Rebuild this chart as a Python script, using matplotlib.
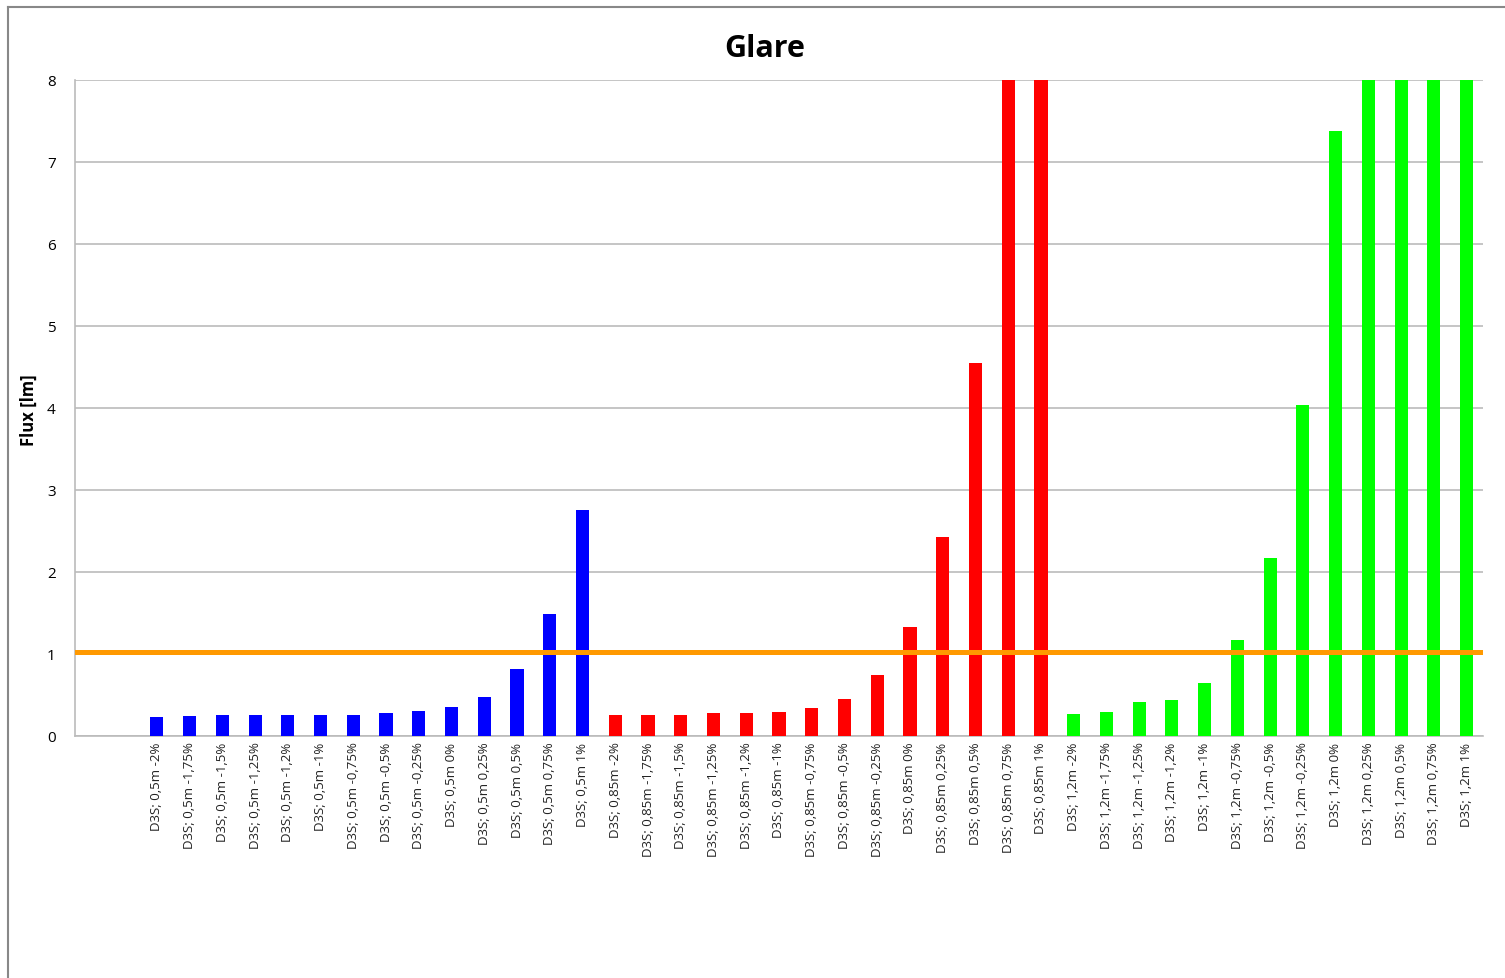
import matplotlib.pyplot as plt
from matplotlib.lines import Line2D

# offsets per mounting height (as printed in the labels)
off_05 = ["-2%", "-1,75%", "-1,5%", "-1,25%", "-1,2%", "-1%", "-0,75%", "-0,5%",
          "-0,25%", "0%", "0,25%", "0,5%", "0,75%", "1%"]
off_085 = ["-2%", "-1,75%", "-1,5%", "-1,25%", "-1,2%", "-1%", "-0,75%", "-0,5%",
           "-0,25%", "0%", "0,25%", "0,5%", "0,75%", "1%"]
off_12 = ["-2%", "-1,75%", "-1,25%", "-1,2%", "-1%", "-0,75%", "-0,5%",
          "-0,25%", "0%", "0,25%", "0,5%", "0,75%", "1%"]

# flux values [lm]; the tall ones run off the top of the 0-8 axis
flux_05 = [0.23, 0.24, 0.25, 0.25, 0.25, 0.26, 0.26, 0.28, 0.30, 0.35, 0.48, 0.82, 1.49, 2.76]
flux_085 = [0.25, 0.26, 0.26, 0.28, 0.28, 0.29, 0.34, 0.45, 0.74, 1.33, 2.43, 4.55, 9.5, 11.0]
flux_12 = [0.27, 0.29, 0.41, 0.44, 0.65, 1.17, 2.17, 4.04, 7.38, 9.0, 10.0, 11.0, 12.0]

limit = 1.02

labels_05 = ["D3S; 0,5m " + o for o in off_05]
labels_085 = ["D3S; 0,85m " + o for o in off_085]
labels_12 = ["D3S; 1,2m " + o for o in off_12]

plt.rcParams['font.family'] = ['Open Sans', 'DejaVu Sans']

fig = plt.figure(figsize=(15.05, 9.79), dpi=100)
ax = fig.add_axes([0.0498, 0.2472, 0.9356, 0.6701])

n_empty = 2
all_labels = [""] * n_empty + labels_05 + labels_085 + labels_12
x = list(range(len(all_labels)))

start = n_empty
ax.bar(x[start:start + len(flux_05)], flux_05, width=0.4, color="#0000FF", zorder=3)
start += len(flux_05)
ax.bar(x[start:start + len(flux_085)], flux_085, width=0.4, color="#FF0000", zorder=3)
start += len(flux_085)
ax.bar(x[start:start + len(flux_12)], flux_12, width=0.4, color="#00FF00", zorder=3)

ax.axhline(limit, color="#FF9900", lw=3.6, zorder=4)

ax.set_xlim(-0.5, len(all_labels) - 0.5)
ax.set_ylim(0, 8)
ax.set_yticks(range(0, 9))
ax.set_xticks(x)
ax.set_xticklabels(all_labels, rotation=90, fontsize=9.5, color="#222222")
ax.tick_params(axis="both", length=0)
ax.tick_params(axis="y", labelsize=11, pad=14)
ax.tick_params(axis="x", pad=4)
ax.yaxis.grid(True, color="#BBBBBB", lw=1.2, zorder=0)
ax.set_axisbelow(True)
for s in ["top", "right"]:
    ax.spines[s].set_visible(False)
ax.spines["left"].set_color("#BBBBBB")
ax.spines["bottom"].set_color("#BBBBBB")
ax.spines["left"].set_linewidth(1.2)
ax.spines["bottom"].set_linewidth(1.2)

fig.text(0.508, 0.950, "Glare", ha="center", va="center", fontsize=22, fontweight="bold")
fig.text(0.019, 0.581, "Flux [lm]", ha="center", va="center", rotation=90,
         fontsize=12, fontweight="bold")

# chart frame (cropped on the right and bottom)
fig.add_artist(Line2D([8 / 1505, 8 / 1505], [0, 1 - 8 / 979], transform=fig.transFigure,
                      color="#888888", lw=1.5))
fig.add_artist(Line2D([8 / 1505, 1], [1 - 8 / 979, 1 - 8 / 979], transform=fig.transFigure,
                      color="#888888", lw=1.5))

fig.savefig("out.png", dpi=100)
